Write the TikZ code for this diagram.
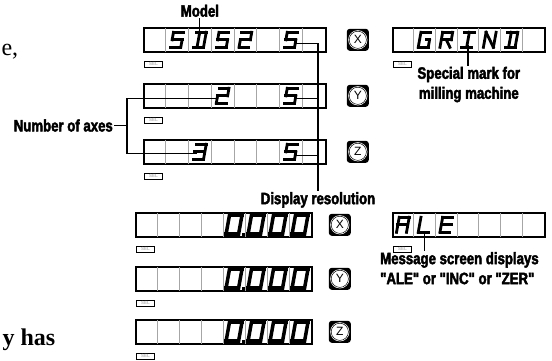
\documentclass[tikz,border=0pt]{standalone}
\usepackage{fontspec}
\setmainfont{Liberation Serif}
\newfontfamily\notefont[FakeStretch=0.8, BoldFeatures={FakeBold=2.6}]{Liberation Sans}
\newfontfamily\keyfont{Liberation Sans}
\usetikzlibrary{positioning}
\tikzset{
    display/.style={
        draw,
        line width=1.6pt,
        inner sep=0pt,
        minimum height=24pt,
        anchor=north west
    },
    divider/.style={
        gray!70,
        line width=0.8pt,
        shorten >=0.8pt,
        shorten <=0.8pt
    },
    segment/.style={
        line cap=rect,
        line join=miter
    },
    sellabel/.style={
        draw,
        line width=1pt,
        inner sep=0pt,
        minimum width=18pt,
        minimum height=6pt,
        anchor=north west,
        text=gray!55,
        font=\fontsize{4.5}{4.5}\keyfont\bfseries
    },
    button/.style={
        rectangle,
        rounded corners=3pt,
        fill=black,
        minimum size=22pt,
        inner sep=0pt,
        font=\fontsize{12}{12}\keyfont,
        path picture={
            \fill[white] (path picture bounding box.center) circle (9.6pt);
            \draw[line width=0.5pt] (path picture bounding box.center) circle (8.6pt);
        }
    },
    note/.style={
        font=\fontsize{16.5}{20}\notefont\bfseries,
        align=center,
        inner sep=1pt
    },
    callout/.style={
        line width=1.2pt
    }
}

\newcommand{\lcdrow}[5]{%
    \node[display, minimum width={#4*#5pt}] (#1) at (#2,#3) {};
    \pgfmathtruncatemacro\lastdiv{#4-1}
    \foreach \k in {1,...,\lastdiv}
        \draw[divider] ([xshift={\k*#5pt}]#1.north west) -- ([xshift={\k*#5pt}]#1.south west);
    \foreach \k in {1,...,#4}
        \coordinate (#1c\k) at ([xshift={(\k-0.5)*#5pt}]#1.west);
    \node[sellabel] (#1sel) at ([shift={(1pt,-8pt)}]#1.south west) {SEL};
}

\newcommand{\lcdchar}[3][1]{%
    \begin{scope}[shift={(#2)}, x=#1pt, y=#1pt, xslant=0.18]
        \coordinate (tl) at (-5,7.5);  \coordinate (tc) at (0,7.5);  \coordinate (tr) at (5,7.5);
        \coordinate (ml) at (-5,0);    \coordinate (mc) at (0,0);    \coordinate (mr) at (5,0);
        \coordinate (bl) at (-5,-7.5); \coordinate (bc) at (0,-7.5); \coordinate (br) at (5,-7.5);
        \coordinate (dt) at (-1.5,7.5); \coordinate (db) at (-1.5,-7.5);
        \coordinate (gm) at (1.5,0);
        \foreach \p/\q in {#3}
            \draw[segment, line width={#1*2.8pt}] (\p) -- (\q);
    \end{scope}}

\begin{document}
\begin{tikzpicture}[x=1pt, y=-1pt]
    \useasboundingbox (0,0) rectangle (552,360);

    \lcdrow{dispA}{143}{27}{8}{22.75}
    \lcdrow{dispB}{143}{83}{8}{22.75}
    \lcdrow{dispC}{143}{139}{8}{22.75}
    \lcdrow{grind}{392}{27}{7}{21.72}

    \lcdchar{dispAc2}{tr/tl, tl/ml, ml/mr, mr/br, br/bl}
    \lcdchar{dispAc3}{tl/tr, tr/br, br/bl, dt/db}
    \lcdchar{dispAc4}{tr/tl, tl/ml, ml/mr, mr/br, br/bl}
    \lcdchar{dispAc5}{tl/tr, tr/mr, mr/ml, ml/bl, bl/br}
    \lcdchar{dispAc7}{tr/tl, tl/ml, ml/mr, mr/br, br/bl}
    \lcdchar{dispBc4}{tl/tr, tr/mr, mr/ml, ml/bl, bl/br}
    \lcdchar{dispBc7}{tr/tl, tl/ml, ml/mr, mr/br, br/bl}
    \lcdchar{dispCc3}{tl/tr, tr/br, br/bl, ml/mr}
    \lcdchar{dispCc7}{tr/tl, tl/ml, ml/mr, mr/br, br/bl}

    \lcdchar{grindc2}{tr/tl, tl/bl, bl/br, br/mr, mr/gm}
    \lcdchar{grindc3}{bl/tl, tl/tr, tr/mr, mr/ml, mc/br}
    \lcdchar{grindc4}{tl/tr, tc/bc, bl/br}
    \lcdchar{grindc5}{bl/tl, tl/br, br/tr}
    \lcdchar{grindc6}{tl/tr, tr/br, br/bl, dt/db}

    \node[button, right=20pt of dispA] (btnAX) {X};
    \node[button, right=20pt of dispB] (btnAY) {Y};
    \node[button, right=20pt of dispC] (btnAZ) {Z};

    \lcdrow{readX}{135}{212}{8}{22}
    \lcdrow{readY}{135}{266}{8}{22}
    \lcdrow{readZ}{135}{319}{8}{22}
    \lcdrow{ale}{392}{212}{7}{21.72}

    \foreach \r in {readX, readY, readZ} {
        \foreach \k in {5,...,8}
            \lcdchar[1.25]{\r c\k}{tl/tr, tr/br, br/bl, bl/tl}
        \fill ([shift={(8pt,-11pt)}]\r c5) rectangle ++(2.6pt,2.6pt);
    }

    \lcdchar{alec1}{bl/tl, tl/tr, tr/br, ml/mr}
    \lcdchar{alec2}{tl/bl, bl/br}
    \lcdchar{alec3}{tr/tl, tl/bl, bl/br, ml/mr}

    \node[button, right=16pt of readX] (btnBX) {X};
    \node[button, right=16pt of readY] (btnBY) {Y};
    \node[button, right=16pt of readZ] (btnBZ) {Z};

    \node[note] (model) at ([yshift=29pt]dispAc3) {Model};
    \node[note, anchor=east] (axes) at (114,125.5) {Number of axes};
    \node[note, anchor=north] (resol) at (318,191) {Display resolution};
    \node[note, below=13pt of grind] (special) {Special mark for\\milling machine};
    \node[note, align=left, anchor=north west] (message) at (379,251) {Message screen displays\\"ALE" or "INC" or "ZER"};

    \node[anchor=base west, font=\fontsize{24}{24}\selectfont] (frage) at (-2,55) {e,};
    \node[anchor=base west, font=\fontsize{24}{24}\selectfont\bfseries] (fragyhas) at (-1,345) {y has};

    \draw[callout] (model.south) -- ([yshift=5pt]dispAc3);

    \coordinate (resA) at ([shift={(5pt,-3.5pt)}]dispAc7);
    \coordinate (resB) at ([shift={(5pt,-3pt)}]dispBc7);
    \coordinate (resC) at ([shift={(5pt,-3.5pt)}]dispCc7);
    \draw[callout] (resA) -| (resol.north);
    \draw[callout] (resB) -- (resB -| resol.north);
    \draw[callout] (resC) -- (resC -| resol.north);

    \coordinate (axesB) at ([shift={(-5.5pt,-2.5pt)}]dispBc4);
    \coordinate (axesC) at ([shift={(-3pt,-1.5pt)}]dispCc3);
    \draw[callout] (axesB) -| ([xshift=13pt]axes.east) |- (axesC);
    \draw[callout] (axes.east) -- ++(13pt,0);

    \coordinate (specialpin) at ([yshift=-5pt]grindc4);
    \draw[callout] (specialpin) -- (specialpin |- special.north);

    \coordinate (alepin) at ([yshift=-6pt]alec2);
    \draw[callout] (alepin) -- (alepin |- message.north);

\end{tikzpicture}
\end{document}
